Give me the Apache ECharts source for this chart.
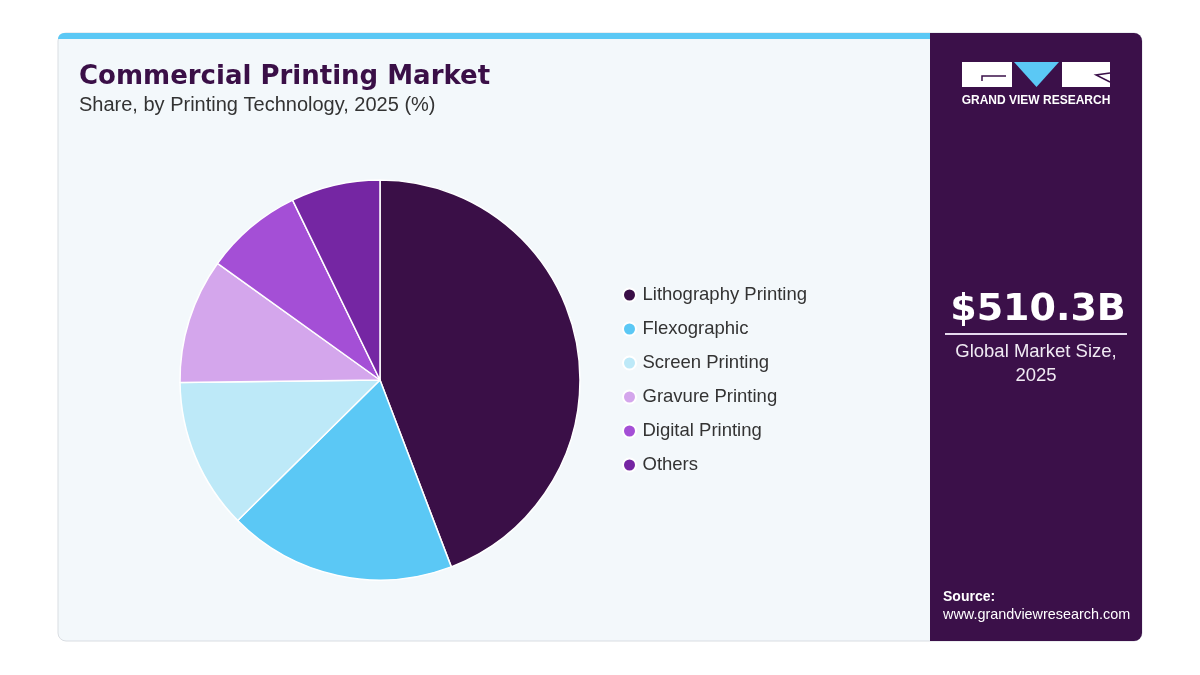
<!DOCTYPE html>
<html>
<head>
    <meta charset="UTF-8">
    <title>Commercial Printing Market</title>
    <style>
        body, html {
            margin: 0;
            width: 100%;
            height: 100%;
            background: #ffffff;
        }
        #container {
            width: 1200px;
            height: 675px;
        }
    </style>
</head>
<body>
<div id="container"></div>

<script src="https://cdn.jsdelivr.net/npm/echarts@6/dist/echarts.min.js"></script>
<script>
    // data (share %, 2025)
    var categories = ['Lithography Printing', 'Flexographic', 'Screen Printing', 'Gravure Printing', 'Digital Printing', 'Others'];
    var shareValues = [44.2, 18.4, 12.2, 10.1, 7.9, 7.2];
    var sliceColors = ['#3a0f47', '#5bc8f5', '#bde9f8', '#d4a6ec', '#a44fd6', '#7526a3'];

    var marketSize = '$510.3B';
    var marketLabel = 'Global Market Size,\n2025';

    function buildChart() {
        var echart = echarts.init(document.getElementById('container'));

        var pieData = [];
        for (var i = 0; i < categories.length; i++) {
            pieData.push({
                name: categories[i],
                value: shareValues[i],
                itemStyle: {color: sliceColors[i]}
            });
        }

        var option = {
            animation: false,
            title: {
                text: 'Commercial Printing Market',
                subtext: 'Share, by Printing Technology, 2025 (%)',
                left: 79,
                top: 64,
                padding: 0,
                itemGap: 5,
                textStyle: {
                    fontFamily: 'DejaVu Sans',
                    fontWeight: 'bold',
                    fontSize: 26,
                    color: '#3a0f47'
                },
                subtextStyle: {
                    fontFamily: 'Liberation Sans',
                    fontSize: 20,
                    color: '#333333'
                }
            },
            legend: {
                orient: 'vertical',
                left: 617,
                top: 280,
                itemGap: 14,
                itemWidth: 16,
                itemHeight: 13,
                icon: 'circle',
                data: categories,
                textStyle: {
                    fontFamily: 'Liberation Sans',
                    fontSize: 18.5,
                    lineHeight: 20,
                    color: '#333333'
                }
            },
            graphic: [
                // card background + border
                {
                    type: 'rect', z: -10,
                    shape: {x: 58, y: 33, width: 1084, height: 608, r: 8},
                    style: {fill: '#f3f8fb', stroke: '#d9dde2', lineWidth: 1}
                },
                // top accent bar
                {
                    type: 'rect', z: -9,
                    shape: {x: 58, y: 33, width: 872, height: 6, r: [6, 0, 0, 0]},
                    style: {fill: '#5bc8f5'}
                },
                // right dark panel
                {
                    type: 'rect', z: -9,
                    shape: {x: 930, y: 33, width: 212, height: 608, r: [0, 8, 8, 0]},
                    style: {fill: '#3b1049'}
                },
                // logo
                {
                    type: 'rect',
                    shape: {x: 962, y: 62, width: 50, height: 25},
                    style: {fill: '#ffffff'}
                },
                {
                    type: 'polyline',
                    shape: {points: [[1006, 76], [982, 76], [982, 81]]},
                    style: {stroke: '#3b1049', lineWidth: 1.5, fill: null}
                },
                {
                    type: 'polygon',
                    shape: {points: [[1014, 62], [1059, 62], [1036.5, 87]]},
                    style: {fill: '#5bc8f5'}
                },
                {
                    type: 'rect',
                    shape: {x: 1062, y: 62, width: 48, height: 25},
                    style: {fill: '#ffffff'}
                },
                {
                    type: 'polyline',
                    shape: {points: [[1110, 73], [1096, 75], [1110, 82]]},
                    style: {stroke: '#3b1049', lineWidth: 1.5, fill: null}
                },
                {
                    type: 'text',
                    style: {
                        x: 1036, y: 101, text: 'GRAND VIEW RESEARCH',
                        align: 'center', verticalAlign: 'middle',
                        fill: '#ffffff', font: 'bold 12px "Liberation Sans"'
                    }
                },
                // market size
                {
                    type: 'text',
                    style: {
                        x: 1038, y: 310, text: marketSize,
                        align: 'center', verticalAlign: 'middle',
                        fill: '#ffffff', font: 'bold 38px "DejaVu Sans"'
                    }
                },
                {
                    type: 'line',
                    shape: {x1: 945, y1: 334, x2: 1127, y2: 334},
                    style: {stroke: '#e6d9ee', lineWidth: 2}
                },
                {
                    type: 'text',
                    style: {
                        x: 1036, y: 364, text: marketLabel,
                        align: 'center', verticalAlign: 'middle', lineHeight: 24,
                        fill: '#f0eaf3', font: '18.5px "Liberation Sans"'
                    }
                },
                // source
                {
                    type: 'text',
                    style: {
                        x: 943, y: 597, text: 'Source:',
                        verticalAlign: 'middle',
                        fill: '#ffffff', font: 'bold 14px "Liberation Sans"'
                    }
                },
                {
                    type: 'text',
                    style: {
                        x: 943, y: 615, text: 'www.grandviewresearch.com',
                        verticalAlign: 'middle',
                        fill: '#ffffff', font: '14.4px "Liberation Sans"'
                    }
                }
            ],
            series: [{
                name: 'Share',
                type: 'pie',
                center: [380, 380],
                radius: 200,
                startAngle: 90,
                clockwise: true,
                label: {show: false},
                labelLine: {show: false},
                itemStyle: {borderColor: '#ffffff', borderWidth: 1.5},
                emphasis: {disabled: true},
                data: pieData
            }]
        };

        echart.setOption(option);
    }

    buildChart();
</script>
</body>
</html>
